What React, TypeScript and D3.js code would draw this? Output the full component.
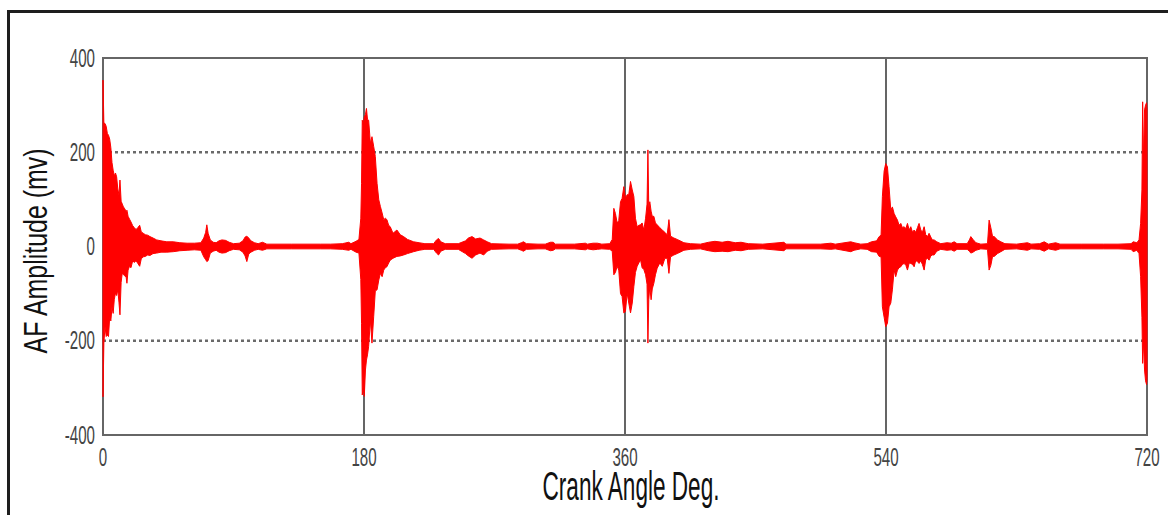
import React from "react";
import * as d3 from "d3";

// Acoustic-emission (AF) amplitude envelope over one 720° engine cycle.
// Each sample: [crank angle (deg), upper envelope (mV), lower envelope (mV)]
const event0: number[][] = [
  [0, 353, -319], [0.6, 262, -205], [1.4, 261, -170], [2.2, 255, -191],
  [3.0, 240, -188], [3.8, 236, -191], [4.6, 228, -150], [5.4, 210, -158],
  [6.2, 178, -128], [7.0, 162, -142], [7.8, 150, -112], [8.6, 156, -99],
  [9.4, 148, -104], [10.2, 122, -92], [11.0, 110, -118], [11.7, 141, -145],
  [12.5, 96, -76], [13.3, 90, -56], [14.1, 84, -60], [15.0, 80, -62],
  [16.0, 74, -66], [16.5, 77, -78], [17.3, 64, -50], [18.3, 58, -42],
  [19.3, 52, -45], [20.5, 44, -30], [21.6, 40, -34], [22.8, 36, -30],
  [24.0, 40, -36], [25.3, 45, -42], [26.4, 31, -26], [27.8, 28, -22],
  [29.2, 25, -21], [30.8, 24, -18], [32.4, 21, -19], [34.5, 18, -15],
  [37.0, 14, -14], [40.0, 12, -12], [44.0, 10, -12], [48.5, 10, -11],
  [53.0, 8, -9], [58.0, 7, -8], [63.0, 7, -7], [67.5, 8, -8],
  [69.5, 18, -22], [70.8, 30, -28], [71.6, 46, -32], [72.5, 28, -30],
  [74.0, 14, -14], [76.0, 9, -10], [78.0, 8, -8], [80.0, 12, -12],
  [82.0, 14, -14], [84.5, 13, -13], [87.0, 9, -9], [90.0, 6, -6],
  [94.0, 7, -7], [96.5, 12, -12], [98.0, 20, -20], [99.2, 22, -32],
  [100.5, 18, -16], [102.0, 12, -12], [104.5, 8, -8], [107.0, 6, -6],
  [110.0, 9, -8], [113.0, 5, -5], [120.0, 5, -5], [130.0, 5, -5],
  [140.0, 5, -5], [150.0, 5, -5],
];

const event180: number[][] = [
  [157.0, 5, -5], [165.0, 6, -6], [169.5, 9, -8], [171.0, 6, -6],
  [174.5, 11, -12], [176.5, 15, -14], [177.8, 60, -70], [178.3, 134, -163],
  [178.8, 268, -315], [179.5, 258, -300], [180.2, 275, -318], [181.0, 280, -262],
  [181.7, 293, -241], [182.4, 270, -230], [183.2, 268, -212], [184.4, 219, -156],
  [185.5, 233, -205], [186.7, 212, -148], [187.8, 191, -94], [189.0, 134, -92],
  [190.2, 99, -71], [191.3, 85, -57], [192.5, 71, -64], [193.6, 57, -50],
  [194.7, 60, -45], [195.8, 57, -43], [197.0, 45, -35], [198.1, 42, -29],
  [200.0, 28, -25], [202.7, 35, -21], [205.0, 25, -20], [207.3, 21, -18],
  [210.0, 15, -15], [214.2, 10, -11], [218.0, 8, -8], [222.0, 6, -6],
  [228.0, 6, -6], [230.0, 14, -14], [231.4, 17, -18], [233.0, 10, -10],
  [236.0, 6, -6], [245.0, 6, -6], [250.0, 12, -15], [252.0, 18, -20],
  [254.5, 21, -25], [257.0, 16, -18], [260.0, 18, -14], [262.5, 14, -18],
  [265.0, 10, -10], [268.0, 6, -6], [280.0, 5, -5], [286.0, 5, -5],
  [288.5, 8, -8], [290.0, 10, -10], [292.0, 6, -6], [300.0, 5, -5],
];

const event360: number[][] = [
  [305.0, 5, -5], [308.6, 9, -9], [310.5, 9, -8], [312.0, 5, -5],
  [325.0, 5, -5], [332.7, 7, -7], [334.0, 5, -5], [338.0, 7, -7],
  [341.0, 7, -6], [344.0, 5, -5], [349.5, 6, -6], [351.2, 15, -10],
  [352.3, 81, -60], [353.4, 70, -55], [354.6, 50, -42], [355.7, 55, -50],
  [356.9, 95, -100], [358.0, 102, -106], [359.2, 127, -141], [360.3, 102, -138],
  [361.5, 110, -99], [362.6, 110, -120], [363.8, 138, -141], [365.0, 120, -120],
  [366.1, 106, -85], [367.2, 60, -55], [368.4, 42, -42], [369.5, 45, -35],
  [370.7, 46, -28], [371.8, 50, -45], [373.0, 35, -49], [374.2, 60, -60],
  [375.2, 90, -80], [375.8, 205, -205], [376.4, 80, -113], [377.1, 95, -85],
  [378.0, 75, -113], [378.8, 64, -90], [379.9, 64, -78], [381.0, 50, -60],
  [382.2, 46, -46], [384.0, 40, -35], [385.7, 35, -42], [387.5, 30, -25],
  [389.1, 25, -25], [390.3, 57, -57], [391.4, 22, -22], [393.7, 18, -18],
  [396.0, 15, -15], [398.0, 12, -12], [400.6, 8, -8], [405.0, 6, -6],
  [412.0, 5, -5], [417.7, 9, -9], [422.0, 11, -11], [427.0, 9, -10],
  [431.0, 11, -11], [436.0, 8, -8], [440.0, 9, -9], [445.0, 6, -6],
  [455.0, 5, -5], [469.7, 9, -9], [471.0, 5, -5],
];

const event540: number[][] = [
  [480.0, 5, -5], [495.0, 5, -5], [502.0, 7, -6], [505.0, 5, -5],
  [515.7, 10, -11], [518.0, 8, -8], [522.6, 5, -5], [527.0, 6, -6],
  [530.0, 10, -11], [533.5, 12, -12], [535.3, 21, -21], [536.6, 24, -22],
  [537.5, 106, -128], [538.7, 160, -150], [539.8, 176, -170], [541.0, 169, -163],
  [542.1, 127, -128], [543.3, 77, -120], [544.4, 84, -92], [545.6, 70, -50],
  [546.7, 63, -64], [547.9, 56, -50], [549.0, 45, -45], [550.2, 49, -43],
  [551.3, 40, -38], [552.5, 42, -36], [553.7, 38, -40], [554.8, 49, -50],
  [556.0, 35, -35], [557.1, 42, -36], [558.3, 30, -38], [559.4, 35, -43],
  [560.5, 30, -30], [561.7, 40, -32], [562.8, 49, -36], [564.0, 35, -30],
  [565.1, 30, -38], [566.3, 42, -50], [567.4, 25, -28], [568.6, 21, -25],
  [569.7, 28, -29], [570.9, 20, -20], [572.0, 14, -18], [573.2, 14, -18],
  [575.0, 10, -10], [577.8, 6, -6], [582.0, 8, -8], [585.0, 7, -7],
  [587.0, 10, -10], [589.0, 6, -6], [596.0, 6, -6], [597.5, 14, -10],
  [598.5, 21, -14], [600.0, 15, -12], [602.0, 8, -8], [605.4, 5, -5],
  [610.0, 6, -6], [611.1, 56, -50], [612.3, 40, -40], [613.5, 21, -21],
  [614.6, 21, -21], [616.9, 14, -15], [619.2, 10, -11], [622.0, 6, -6],
  [630.0, 5, -5], [637.6, 8, -8], [640.0, 5, -5], [646.0, 6, -6],
  [649.1, 10, -10], [652.0, 5, -5], [657.0, 8, -8], [660.0, 5, -5],
  [675.0, 5, -5], [690.0, 5, -5],
];

const event720: number[][] = [
  [700.0, 5, -5], [709.0, 6, -6], [710.5, 10, -11], [713.0, 8, -8],
  [714.5, 14, -15], [715.6, 49, -64], [716.5, 120, -150], [717.0, 307, -248],
  [717.6, 180, -200], [718.3, 290, -262], [719.0, 300, -285], [719.7, 305, -293],
  [720.0, 290, -280],
];

const xTicks = [0, 180, 360, 540, 720];
const yTicks = [-400, -200, 0, 200, 400];
const xGrid = [180, 360, 540];
const yGrid = [-200, 200];

const xTitle = "Crank Angle Deg.";
const yTitle = "AF Amplitude (mv)";

const FONT = "'Liberation Sans Narrow', 'Liberation Sans', 'DejaVu Sans Condensed', sans-serif";

// approximate width of a condensed numeric label
const labelWidth = (s: string) =>
  s.split("").reduce((w, c) => w + (c === "-" ? 5 : 8.4), 0);

export default function App() {
  const x = d3.scaleLinear().domain([0, 720]).range([103, 1147]);
  const y = d3.scaleLinear().domain([-400, 400]).range([435, 58]);

  const signal = [...event0, ...event180, ...event360, ...event540, ...event720];
  const envelope = d3
    .area<number[]>()
    .x((d) => x(d[0]))
    .y0((d) => y(d[2]))
    .y1((d) => y(d[1]))(signal) as string;

  const [x0, x1] = x.range();
  const [yb, yt] = y.range();

  return (
    <svg
      width={1168}
      height={515}
      style={{ position: "absolute", left: 0, top: 0, background: "#fff" }}
    >
      {/* outer frame */}
      <path d="M8.5,515 V11.5 H1168" fill="none" stroke="#1e1e1e" strokeWidth={3} />

      {/* dotted horizontal grid */}
      {yGrid.map((v) => (
        <line
          key={"hg" + v}
          x1={x0}
          x2={x1}
          y1={y(v)}
          y2={y(v)}
          stroke="#6a6a6a"
          strokeWidth={2.4}
          strokeDasharray="3 3"
        />
      ))}

      {/* solid vertical grid */}
      {xGrid.map((v) => (
        <line
          key={"vg" + v}
          x1={x(v)}
          x2={x(v)}
          y1={yt}
          y2={yb}
          stroke="#555"
          strokeWidth={1.8}
        />
      ))}

      {/* plot frame */}
      <rect
        x={x0}
        y={yt}
        width={x1 - x0}
        height={yb - yt}
        fill="none"
        stroke="#666"
        strokeWidth={2}
      />

      {/* AF signal */}
      <path d={envelope} fill="#ff0000" stroke="#ff0000" strokeWidth={1} strokeLinejoin="round" />

      {/* y tick labels */}
      {yTicks.map((v) => (
        <text
          key={"yt" + v}
          x={95}
          y={y(v) + 8.5}
          textAnchor="end"
          fontFamily={FONT}
          fontSize={25}
          fill="#444"
          textLength={labelWidth(String(v))}
          lengthAdjust="spacingAndGlyphs"
        >
          {v}
        </text>
      ))}

      {/* x tick labels */}
      {xTicks.map((v) => (
        <text
          key={"xt" + v}
          x={x(v)}
          y={466}
          textAnchor="middle"
          fontFamily={FONT}
          fontSize={25}
          fill="#444"
          textLength={labelWidth(String(v))}
          lengthAdjust="spacingAndGlyphs"
        >
          {v}
        </text>
      ))}

      {/* axis titles */}
      <text
        x={631}
        y={500}
        textAnchor="middle"
        fontFamily={FONT}
        fontSize={41}
        fill="#111"
        textLength={177}
        lengthAdjust="spacingAndGlyphs"
      >
        {xTitle}
      </text>
      <text
        transform="translate(47,251) rotate(-90)"
        textAnchor="middle"
        fontFamily={FONT}
        fontSize={33}
        fill="#111"
        textLength={205}
        lengthAdjust="spacingAndGlyphs"
      >
        {yTitle}
      </text>
    </svg>
  );
}
